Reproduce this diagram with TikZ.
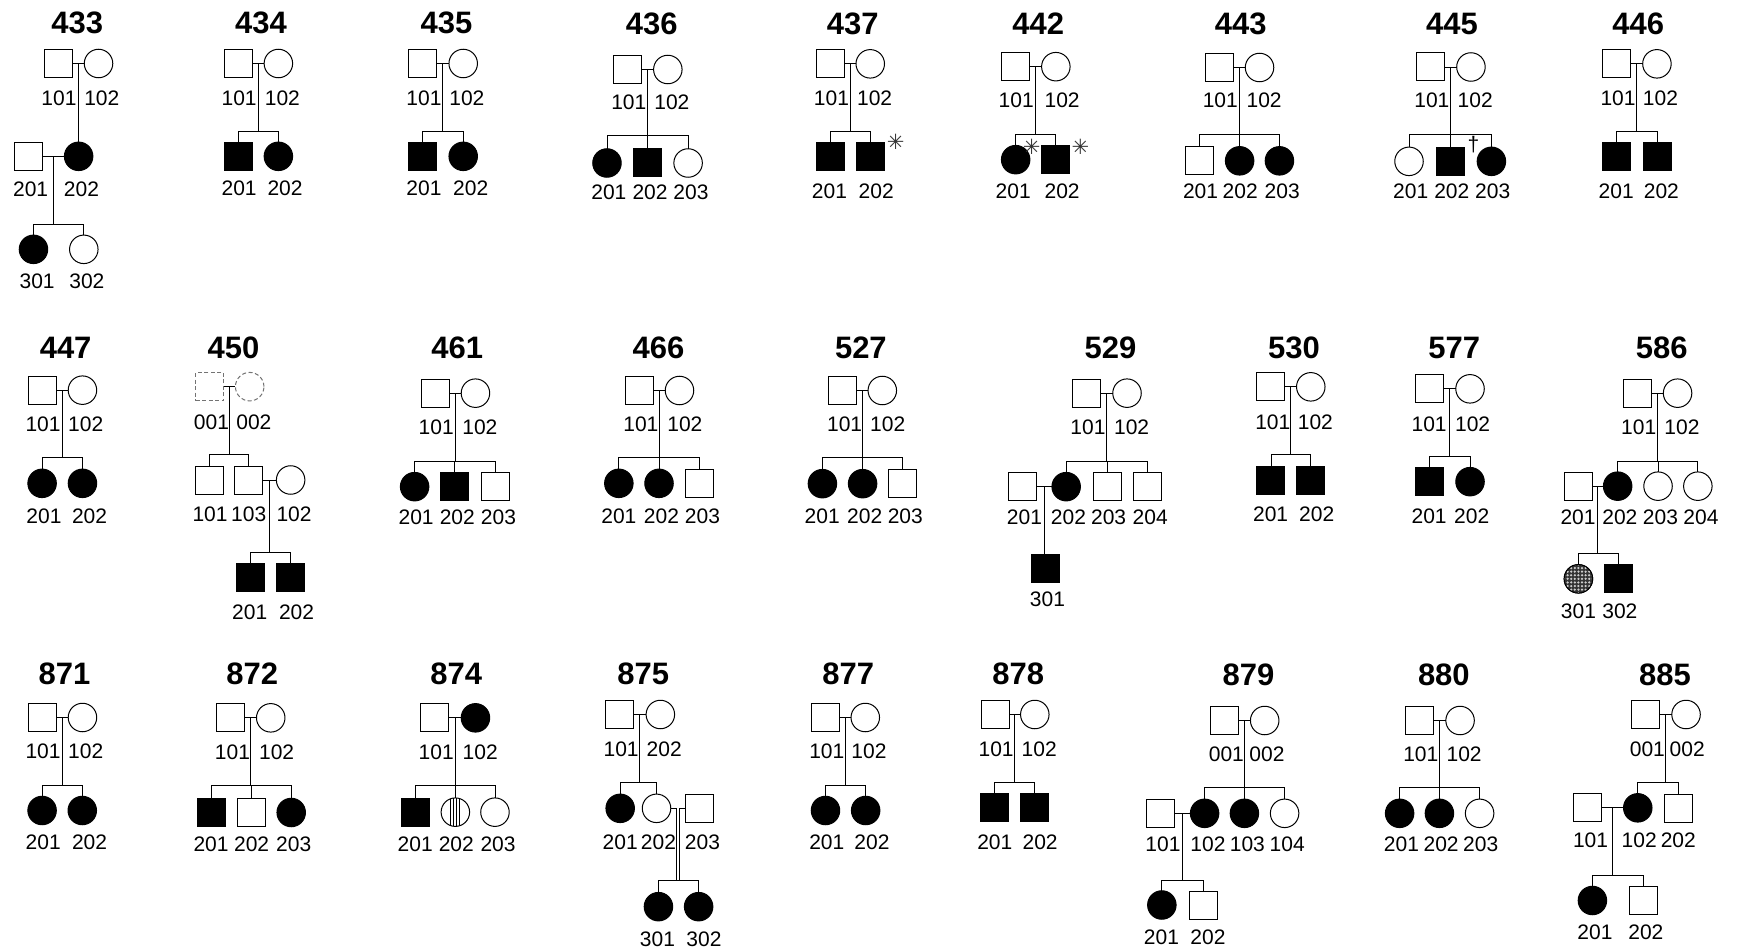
\documentclass[tikz,border=0pt]{standalone}
\usepackage{fontspec}
\setmainfont{Liberation Sans}
\newfontfamily\symfont{DejaVu Sans}
\usetikzlibrary{calc}
\tikzset{
  pind/.style={draw, line width=1pt, minimum size=28pt, inner sep=0pt, outer sep=0pt},
  male/.style={pind, rectangle},
  fem/.style={pind, circle, minimum size=28.5pt},
  aff/.style={fill=black},
  unk/.style={draw=black!55, dash pattern=on 4pt off 2.5pt},
  lab/.style={font=\fontsize{21}{21}\selectfont, inner sep=0pt},
  ttl/.style={font=\fontsize{31}{31}\selectfont\bfseries, inner sep=0pt},
  astx/.style={font=\symfont\fontsize{21}{21}\selectfont, text=black!80, inner sep=0pt},
  dagg/.style={font=\fontsize{21}{21}\selectfont, inner sep=0pt},
  zA/.style={x=0.38266pt, y=-0.33333pt},
  zB/.style={x=0.36863pt, y=-0.33333pt}
}
% individual: style, name, x, y, label, label x, label y
\newcommand\pedind[7]{\node[#1] (#2) at (#3,#4) {}; \node[lab] (#2l) at (#6,#7) {#5};}
\newcommand\marry[3]{\draw (#1.east) -- (#2.west); \coordinate (#3) at ($(#1.east)!.5!(#2.west)$);}
\newcommand\sibs[3]{\coordinate (#1y) at (0,#2); \draw (#1) -- (#1 |- #1y);
  \foreach \ch in {#3}{\draw (\ch.north) |- (#1 |- #1y);}}
\begin{document}
\begin{tikzpicture}[x=1pt, y=-1pt, line width=0.9pt]
\fill[white] (0,0) rectangle (1738,950);
\useasboundingbox (0,0) rectangle (1738,950);

% ---------------- Row 1 ----------------
\begin{scope}[shift={(0pt,0pt)}, zA]
% 433
\node[ttl] (t433) at (202,67.5) {433};
\pedind{male}{a433}{153.5}{190.5}{101}{154}{295}
\pedind{fem}{b433}{257.5}{190.5}{102}{266}{295}
\marry{a433}{b433}{m433}
\pedind{male}{c433}{74.5}{469}{201}{80}{567}
\pedind{fem,aff}{d433}{205.5}{469}{202}{213}{567}
\draw (m433) -- (m433 |- d433.north);
\marry{c433}{d433}{n433}
\pedind{fem,aff}{e433}{87.5}{748}{301}{97}{845}
\pedind{fem}{f433}{219}{748}{302}{227}{845}
\sibs{n433}{673}{e433,f433}
% 434
\node[ttl] (t434) at (682,67.5) {434};
\pedind{male}{a434}{622.5}{190.5}{101}{625}{295}
\pedind{fem}{b434}{727.5}{190.5}{102}{738}{295}
\marry{a434}{b434}{m434}
\pedind{male,aff}{c434}{622.5}{469}{201}{625}{565}
\pedind{fem,aff}{d434}{727.5}{469}{202}{745}{565}
\sibs{m434}{393}{c434,d434}
% 435
\node[ttl] (t435) at (1167,67.5) {435};
\pedind{male}{a435}{1105}{190.5}{101}{1108}{295}
\pedind{fem}{b435}{1210.5}{190.5}{102}{1220}{295}
\marry{a435}{b435}{m435}
\pedind{male,aff}{c435}{1105}{469}{201}{1108}{565}
\pedind{fem,aff}{d435}{1210.5}{469}{202}{1230}{565}
\sibs{m435}{393}{c435,d435}
\end{scope}

\begin{scope}[shift={(580pt,0pt)}, zA]
% 436
\node[ttl] (t436) at (187.5,72) {436};
\pedind{male}{a436}{123.5}{208.5}{101}{127.5}{307}
\pedind{fem}{b436}{229.5}{208.5}{102}{240}{307}
\marry{a436}{b436}{m436}
\pedind{fem,aff}{c436}{70.5}{489}{201}{75.5}{577}
\pedind{male,aff}{d436}{176.5}{489}{202}{183}{577}
\pedind{fem}{e436}{282.5}{489}{203}{290}{577}
\sibs{m436}{405}{c436,d436,e436}
% 437
\node[ttl] (t437) at (712.5,72) {437};
\pedind{male}{a437}{653.5}{191.5}{101}{657}{295}
\pedind{fem}{b437}{758.5}{191.5}{102}{770}{295}
\marry{a437}{b437}{m437}
\pedind{male,aff}{c437}{653.5}{471}{201}{652}{575}
\pedind{male,aff}{d437}{758.5}{471}{202}{774}{575}
\sibs{m437}{395}{c437,d437}
\node[astx] (s437) at (825,425) {✳};
% 442
\node[ttl] (t442) at (1197.5,72) {442};
\pedind{male}{a442}{1138.5}{200}{101}{1140}{300}
\pedind{fem}{b442}{1243.5}{200}{102}{1260}{300}
\marry{a442}{b442}{m442}
\pedind{fem,aff}{c442}{1138.5}{479}{201}{1132}{575}
\pedind{male,aff}{d442}{1243.5}{479}{202}{1260}{575}
\sibs{m442}{403}{c442,d442}
\node[astx] (s442a) at (1180,440) {✳};
\node[astx] (s442b) at (1308,440) {✳};
\end{scope}

\begin{scope}[shift={(1160pt,0pt)}, zB]
% 443
\node[ttl] (t443) at (219,72) {443};
\pedind{male}{a443}{161}{202.5}{101}{163.5}{300}
\pedind{fem}{b443}{270}{202.5}{102}{282.5}{300}
\marry{a443}{b443}{m443}
\pedind{male}{c443}{107.5}{482.5}{201}{110}{575}
\pedind{fem,aff}{d443}{216}{482.5}{202}{217.5}{575}
\pedind{fem,aff}{e443}{324}{482.5}{203}{331.5}{575}
\sibs{m443}{403}{c443,d443,e443}
% 445
\node[ttl] (t445) at (792,72) {445};
\pedind{male}{a445}{735}{201}{101}{737.5}{300}
\pedind{fem}{b445}{843.5}{201}{102}{855}{300}
\marry{a445}{b445}{m445}
\pedind{fem}{c445}{675.5}{484}{201}{680}{575}
\pedind{male,aff}{d445}{788}{484}{202}{791.5}{575}
\pedind{fem,aff}{e445}{899}{484}{203}{902.5}{575}
\sibs{m445}{403}{c445,d445,e445}
\node[dagg] (x445) at (850,435) {†};
% 446
\node[ttl] (t446) at (1297.5,72) {446};
\pedind{male}{a446}{1239}{191.5}{101}{1242.5}{295}
\pedind{fem}{b446}{1348}{191.5}{102}{1357.5}{295}
\marry{a446}{b446}{m446}
\pedind{male,aff}{c446}{1239}{470}{201}{1237.5}{575}
\pedind{male,aff}{d446}{1349}{470}{202}{1360}{575}
\sibs{m446}{393}{c446,d446}
\end{scope}

% ---------------- Row 2 ----------------
\begin{scope}[shift={(0pt,-320pt)}, zA]
% 447
\node[ttl] (t447) at (171.5,82.5) {447};
\pedind{male}{a447}{110}{210.5}{101}{112.5}{312.5}
\pedind{fem}{b447}{215.5}{210.5}{102}{224}{312.5}
\marry{a447}{b447}{m447}
\pedind{fem,aff}{c447}{110}{490}{201}{115}{587.5}
\pedind{fem,aff}{d447}{215.5}{490}{202}{234}{587.5}
\sibs{m447}{413}{c447,d447}
% 450
\node[ttl] (t450) at (610,82.5) {450};
\pedind{male,unk}{a450}{548.5}{200}{001}{552.5}{307.5}
\pedind{fem,unk}{b450}{652.5}{200}{002}{663.5}{307.5}
\marry{a450}{b450}{m450}
\pedind{male}{c450}{548.5}{480}{101}{549}{582.5}
\pedind{male}{d450}{650.5}{480}{103}{650}{582.5}
\pedind{fem}{e450}{759.5}{480}{102}{768.5}{582.5}
\sibs{m450}{403}{c450,d450}
\marry{d450}{e450}{n450}
\pedind{male,aff}{f450}{655}{771}{201}{652.5}{877.5}
\pedind{male,aff}{g450}{758.5}{771}{202}{775}{877.5}
\sibs{n450}{697}{f450,g450}
% 461
\node[ttl] (t461) at (1195,82.5) {461};
\pedind{male}{a461}{1137.5}{219.5}{101}{1140}{322.5}
\pedind{fem}{b461}{1242.5}{219.5}{102}{1254}{322.5}
\marry{a461}{b461}{m461}
\pedind{fem,aff}{c461}{1083.5}{500}{201}{1087.5}{592.5}
\pedind{male,aff}{d461}{1188.5}{500}{202}{1195}{592.5}
\pedind{male}{e461}{1294.5}{500}{203}{1302.5}{592.5}
\sibs{m461}{423}{c461,d461,e461}
\end{scope}

\begin{scope}[shift={(580pt,-320pt)}, zA]
% 466
\node[ttl] (t466) at (205,82.5) {466};
\pedind{male}{a466}{155.5}{211.5}{101}{159}{312.5}
\pedind{fem}{b466}{260}{211.5}{102}{274}{312.5}
\marry{a466}{b466}{m466}
\pedind{fem,aff}{c466}{101.5}{490}{201}{101.5}{587.5}
\pedind{fem,aff}{d466}{206.5}{490}{202}{213}{587.5}
\pedind{male}{e466}{312.5}{490}{203}{320}{587.5}
\sibs{m466}{413}{c466,d466,e466}
% 527
\node[ttl] (t527) at (734,82.5) {527};
\pedind{male}{a527}{685.5}{211.5}{101}{691.5}{312.5}
\pedind{fem}{b527}{790}{211.5}{102}{804}{312.5}
\marry{a527}{b527}{m527}
\pedind{fem,aff}{c527}{633.5}{491}{201}{633}{588}
\pedind{fem,aff}{d527}{738.5}{491}{202}{744}{588}
\pedind{male}{e527}{843.5}{491}{203}{850}{588}
\sibs{m527}{413}{c527,d527,e527}
% 529
\node[ttl] (t529) at (1386.5,82.5) {529};
\pedind{male}{a529}{1324.5}{219.5}{101}{1327.5}{322.5}
\pedind{fem}{b529}{1429.5}{219.5}{102}{1441.5}{322.5}
\marry{a529}{b529}{m529}
\pedind{male}{c529}{1156.5}{500}{201}{1161.5}{592.5}
\pedind{fem,aff}{d529}{1270.5}{500}{202}{1276.5}{592.5}
\pedind{male}{e529}{1377.5}{500}{203}{1381.5}{592.5}
\pedind{male}{f529}{1482.5}{500}{204}{1490}{592.5}
\sibs{m529}{423}{d529,e529,f529}
\marry{c529}{d529}{n529}
\pedind{male,aff}{g529}{1216.5}{746.5}{301}{1221.5}{838.5}
\draw (n529) -- (n529 |- g529.north);
\end{scope}

\begin{scope}[shift={(1160pt,-320pt)}, zB]
% 530
\node[ttl] (t530) at (363.5,82.5) {530};
\pedind{male}{a530}{301}{200.5}{101}{306}{307.5}
\pedind{fem}{b530}{409}{200.5}{102}{421.5}{307.5}
\marry{a530}{b530}{m530}
\pedind{male,aff}{c530}{301}{481}{201}{300}{582.5}
\pedind{male,aff}{d530}{409}{481}{202}{425}{582.5}
\sibs{m530}{403}{c530,d530}
% 577
\node[ttl] (t577) at (798,82.5) {577};
\pedind{male}{a577}{731}{206.5}{101}{730}{312.5}
\pedind{fem}{b577}{841}{206.5}{102}{848}{312.5}
\marry{a577}{b577}{m577}
\pedind{male,aff}{c577}{732}{485}{201}{730}{588}
\pedind{fem,aff}{d577}{841}{485}{202}{845.5}{588}
\sibs{m577}{408}{c577,d577}
% 586
\node[ttl] (t586) at (1361,82.5) {586};
\pedind{male}{a586}{1296}{219.5}{101}{1298.5}{322.5}
\pedind{fem}{b586}{1404}{219.5}{102}{1416}{322.5}
\marry{a586}{b586}{m586}
\pedind{male}{c586}{1134}{498.5}{201}{1134}{592.5}
\pedind{fem,aff}{d586}{1241.5}{498.5}{202}{1247.5}{592.5}
\pedind{fem}{e586}{1351}{498.5}{203}{1357.5}{592.5}
\pedind{fem}{f586}{1459}{498.5}{204}{1467.5}{592.5}
\sibs{m586}{423}{d586,e586,f586}
\marry{c586}{d586}{n586}
\pedind{fem}{g586}{1135}{776.5}{301}{1135}{872.5}
\pedind{male,aff}{h586}{1244}{776.5}{302}{1247.5}{872.5}
\sibs{n586}{700}{g586,h586}
\begin{scope}
\clip (g586.center) circle (14.25pt);
\fill[black!80] (g586.center) circle (14.25pt);
\foreach \i in {-4,...,4}{\foreach \j in {-4,...,4}{
  \fill[black!20] ([shift={(\i*3.6pt,\j*3.6pt)}]g586.center) circle (1.25pt);}}
\end{scope}
\draw[line width=1pt] (g586.center) circle (14.25pt);
\end{scope}

% ---------------- Row 3 ----------------
\begin{scope}[shift={(0pt,-650pt)}, zA]
% 871
\node[ttl] (t871) at (168.5,72.5) {871};
\pedind{male}{a871}{110}{202.5}{101}{112.5}{302.5}
\pedind{fem}{b871}{215.5}{202.5}{102}{224}{302.5}
\marry{a871}{b871}{m871}
\pedind{fem,aff}{c871}{110}{481.5}{201}{113}{577.5}
\pedind{fem,aff}{d871}{215}{481.5}{202}{234}{577.5}
\sibs{m871}{405}{c871,d871}
% 872
\node[ttl] (t872) at (659,72.5) {872};
\pedind{male}{a872}{603.5}{203.5}{101}{607.5}{307.5}
\pedind{fem}{b872}{707.5}{203.5}{102}{723}{307.5}
\marry{a872}{b872}{m872}
\pedind{male,aff}{c872}{551.5}{487.5}{201}{551.5}{582.5}
\pedind{male}{d872}{656.5}{487.5}{202}{657.5}{582.5}
\pedind{fem,aff}{e872}{761}{487.5}{203}{767.5}{582.5}
\sibs{m872}{405}{c872,d872,e872}
% 874
\node[ttl] (t874) at (1192.5,72.5) {874};
\pedind{male}{a874}{1136.5}{203.5}{101}{1140}{307.5}
\pedind{fem,aff}{b874}{1242.5}{203.5}{102}{1255}{307.5}
\marry{a874}{b874}{m874}
\pedind{male,aff}{c874}{1086.5}{486.5}{201}{1085}{582.5}
\pedind{fem}{d874}{1190}{486.5}{202}{1192.5}{582.5}
\pedind{fem}{e874}{1293.5}{486.5}{203}{1301.5}{582.5}
\sibs{m874}{405}{c874,d874,e874}
\begin{scope}
\clip (d874.center) circle (14.25pt);
\foreach \dx in {-4.5,-1.5,1.5,4.5}{
  \draw[line width=1.2pt] ([xshift=\dx pt]d874.north) -- ([xshift=\dx pt]d874.south);}
\end{scope}
\end{scope}

\begin{scope}[shift={(580pt,-650pt)}, zA]
% 875
\node[ttl] (t875) at (165,72.5) {875};
\pedind{male}{a875}{103.5}{193.5}{101}{107.5}{297.5}
\pedind{fem}{b875}{210}{193.5}{202}{220}{297.5}
\marry{a875}{b875}{m875}
\pedind{fem,aff}{c875}{105}{475}{201}{105}{577.5}
\pedind{fem}{d875}{200}{475}{202}{205}{577.5}
\pedind{male}{e875}{311.5}{475}{203}{320}{577.5}
\sibs{m875}{397}{c875,d875}
\marry{d875}{e875}{n875}
\pedind{fem,aff}{f875}{205}{770}{301}{202.5}{867.5}
\pedind{fem,aff}{g875}{310}{770}{302}{324}{867.5}
\coordinate (n875y) at (0,690);
\draw[double, double distance=2pt, line width=0.7pt] (n875) -- (n875 |- n875y);
\draw (f875.north) |- (n875 |- n875y);
\draw (g875.north) |- (n875 |- n875y);
% 877
\node[ttl] (t877) at (701,72.5) {877};
\pedind{male}{a877}{640.5}{202.5}{101}{645}{302.5}
\pedind{fem}{b877}{745.5}{202.5}{102}{755}{302.5}
\marry{a877}{b877}{m877}
\pedind{fem,aff}{c877}{641.5}{481.5}{201}{645}{577.5}
\pedind{fem,aff}{d877}{746.5}{481.5}{202}{763}{577.5}
\sibs{m877}{405}{c877,d877}
% 878
\node[ttl] (t878) at (1145,72.5) {878};
\pedind{male}{a878}{1084.5}{193.5}{101}{1087.5}{297.5}
\pedind{fem}{b878}{1188.5}{193.5}{102}{1200}{297.5}
\marry{a878}{b878}{m878}
\pedind{male,aff}{c878}{1083.5}{473}{201}{1084}{577.5}
\pedind{male,aff}{d878}{1188.5}{473}{202}{1202.5}{577.5}
\sibs{m878}{397}{c878,d878}
\end{scope}

\begin{scope}[shift={(1160pt,-650pt)}, zB]
% 879
\node[ttl] (t879) at (240,75) {879};
\pedind{male}{a879}{176}{211.5}{001}{180}{312.5}
\pedind{fem}{b879}{284}{211.5}{002}{290}{312.5}
\marry{a879}{b879}{m879}
\pedind{male}{c879}{2}{490}{101}{8}{582.5}
\pedind{fem,aff}{d879}{121}{490}{102}{130}{582.5}
\pedind{fem,aff}{e879}{229}{490}{103}{237}{582.5}
\pedind{fem}{f879}{338}{490}{104}{345}{582.5}
\sibs{m879}{413}{d879,e879,f879}
\marry{c879}{d879}{n879}
\pedind{fem,aff}{g879}{5}{765}{201}{4}{862}
\pedind{male}{h879}{119}{765}{202}{130}{862}
\sibs{n879}{690}{g879,h879}
% 880
\node[ttl] (t880) at (770,75) {880};
\pedind{male}{a880}{705}{211.5}{101}{707.5}{312.5}
\pedind{fem}{b880}{814}{211.5}{102}{825}{312.5}
\marry{a880}{b880}{m880}
\pedind{fem,aff}{c880}{650}{490}{201}{655}{582.5}
\pedind{fem,aff}{d880}{758}{490}{202}{762.5}{582.5}
\pedind{fem}{e880}{867}{490}{203}{870}{582.5}
\sibs{m880}{413}{c880,d880,e880}
% 885
\node[ttl] (t885) at (1370,75) {885};
\pedind{male}{a885}{1318}{193.5}{001}{1322}{297.5}
\pedind{fem}{b885}{1427}{193.5}{002}{1430}{297.5}
\marry{a885}{b885}{m885}
\pedind{male}{c885}{1160}{473.5}{101}{1168}{572}
\pedind{fem,aff}{d885}{1296}{473.5}{102}{1300}{572}
\pedind{male}{e885}{1405.5}{475}{202}{1406}{572}
\sibs{m885}{398}{d885,e885}
\marry{c885}{d885}{n885}
\pedind{fem,aff}{f885}{1173}{751.5}{201}{1180}{848}
\pedind{male}{g885}{1311}{751.5}{202}{1318}{848}
\sibs{n885}{675}{f885,g885}
\end{scope}
\end{tikzpicture}
\end{document}
